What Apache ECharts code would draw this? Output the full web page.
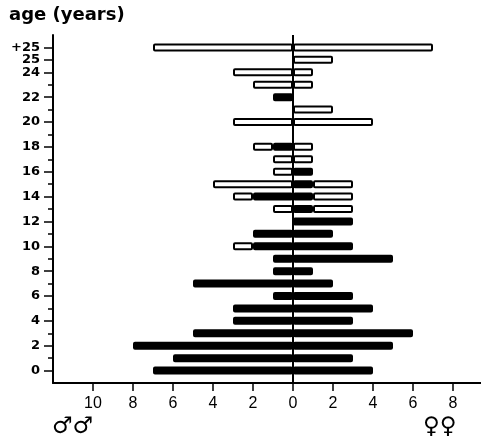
<!DOCTYPE html>
<html>
<head>
<meta charset="utf-8">
<script src="https://cdn.jsdelivr.net/npm/echarts@6/dist/echarts.min.js"></script>
<style>
  html, body { margin: 0; padding: 0; background: #fff; }
  #main { width: 481px; height: 443px; }
</style>
</head>
<body>
<div id="main"></div>
<script>
// age classes, bottom to top
var ages = ['0', '1', '2', '3', '4', '5', '6', '7', '8', '9', '10', '11', '12',
  '13', '14', '15', '16', '17', '18', '19', '20', '21', '22', '23', '24', '25', '+25'];
// labelled rows on the age axis
var ageLabels = ['0', '2', '4', '6', '8', '10', '12', '14', '16', '18', '20', '22', '24', '25', '+25'];

// males (left side): black part and open part
var maleFilled = [7, 6, 8, 5, 3, 3, 1, 5, 1, 1, 2, 2, 0, 0, 2, 0, 0, 0, 1, 0, 0, 0, 1, 0, 0, 0, 0];
var maleOpen   = [0, 0, 0, 0, 0, 0, 0, 0, 0, 0, 1, 0, 0, 1, 1, 4, 1, 1, 1, 0, 3, 0, 0, 2, 3, 0, 7];
// females (right side)
var femaleFilled = [4, 3, 5, 6, 3, 4, 3, 2, 1, 5, 3, 2, 3, 1, 1, 1, 1, 0, 0, 0, 0, 0, 0, 0, 0, 0, 0];
var femaleOpen   = [0, 0, 0, 0, 0, 0, 0, 0, 0, 0, 0, 0, 0, 2, 2, 2, 0, 1, 1, 0, 4, 2, 0, 1, 1, 2, 7];

// tick positions on the count axis (males drawn negative)
var xTicks = [-10, -8, -6, -4, -2, 0, 2, 4, 6, 8];

// one empty slot below 0 and one above +25 so the axis runs past the bars
var cats = [''].concat(ages).concat(['']);
function pad(arr, sign) {
  return [null].concat(arr.map(function (v) { return v ? sign * v : null; })).concat([null]);
}

var myChart = echarts.init(document.getElementById('main'));

var filledStyle = { color: '#000', borderColor: '#000', borderWidth: 2, borderRadius: 1 };
var openStyle = { color: '#fff', borderColor: '#000', borderWidth: 2, borderRadius: 1 };

myChart.setOption({
  animation: false,
  grid: { left: 53, right: 0, top: 35, bottom: 60, containLabel: false },
  xAxis: {
    type: 'value',
    min: -12,
    max: 9.4,
    interval: 2,
    splitLine: { show: false },
    axisLine: { show: true, onZero: false, lineStyle: { color: '#000', width: 2 } },
    axisTick: { show: true, length: 8, customValues: xTicks, lineStyle: { color: '#000', width: 1.5 } },
    axisLabel: {
      margin: 13,
      color: '#000',
      fontSize: 16,
      fontFamily: 'Liberation Sans',
      customValues: xTicks,
      formatter: function (v) { return String(Math.abs(v)); }
    }
  },
  yAxis: [{
    type: 'category',
    data: cats,
    boundaryGap: false,
    axisLine: { show: true, onZero: false, lineStyle: { color: '#000', width: 2 } },
    axisTick: {
      show: true, length: 5, lineStyle: { color: '#000', width: 1.5 },
      interval: function (i) { return i > 0 && i < cats.length - 1; }
    },
    axisLabel: {
      interval: 0,
      margin: 13,
      color: '#000',
      fontSize: 13,
      fontWeight: 'bold',
      fontFamily: 'DejaVu Sans',
      formatter: function (v) { return ageLabels.indexOf(v) >= 0 ? v : ''; }
    },
    splitLine: { show: false }
  }, {
    type: 'category',
    data: cats,
    boundaryGap: false,
    position: 'left',
    axisLine: { show: false, onZero: false },
    axisTick: {
      show: true, length: 9, lineStyle: { color: '#000', width: 1.5 },
      interval: function (i, v) { return ageLabels.indexOf(v) >= 0; }
    },
    axisLabel: { show: false },
    splitLine: { show: false }
  }],
  series: [{
    name: 'male filled', type: 'bar', stack: 'all', barWidth: 8,
    data: pad(maleFilled, -1), itemStyle: filledStyle
  }, {
    name: 'male open', type: 'bar', stack: 'all', barWidth: 8,
    data: pad(maleOpen, -1), itemStyle: openStyle
  }, {
    name: 'female filled', type: 'bar', stack: 'all', barWidth: 8,
    data: pad(femaleFilled, 1), itemStyle: filledStyle
  }, {
    name: 'female open', type: 'bar', stack: 'all', barWidth: 8,
    data: pad(femaleOpen, 1), itemStyle: openStyle,
    markLine: {
      silent: true,
      symbol: 'none',
      label: { show: false },
      lineStyle: { color: '#000', width: 2, type: 'solid' },
      data: [{ xAxis: 0 }]
    }
  }],
  graphic: [{
    type: 'text', left: 9, top: 6,
    style: { text: 'age (years)', font: 'bold 18px "DejaVu Sans"', fill: '#000' }
  }, {
    type: 'text', left: 52, top: 416,
    style: { text: '\u2642\u2642', font: '23px "DejaVu Sans"', fill: '#000' }
  }, {
    type: 'text', left: 423, top: 416,
    style: { text: '\u2640\u2640', font: '23px "DejaVu Sans"', fill: '#000' }
  }]
});
</script>
</body>
</html>
